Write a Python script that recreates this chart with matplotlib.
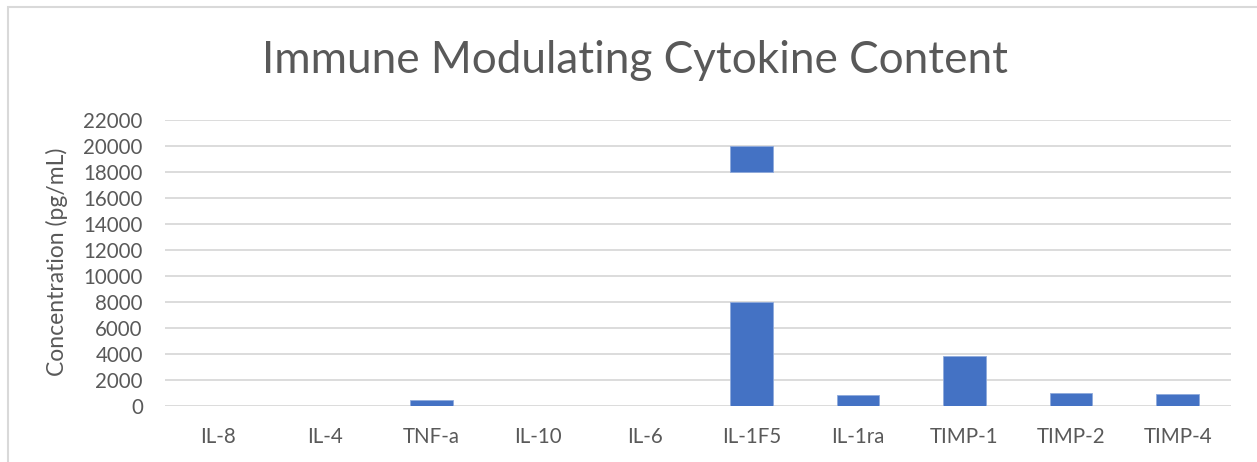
import matplotlib.pyplot as plt
from matplotlib.patches import Rectangle

# values (pg/mL)
categories = ["IL-8", "IL-4", "TNF-a", "IL-10", "IL-6",
              "IL-1F5", "IL-1ra", "TIMP-1", "TIMP-2", "TIMP-4"]
values = [0, 0, 450, 0, 0, 8000, 800, 3850, 970, 900]
# IL-1F5 is drawn with a broken bar: an extra segment floating above
upper_category = ["IL-1F5"]
upper_bottom = [18000]
upper_top = [20000]
y_ticks = list(range(0, 22001, 2000))

bar_color = "#4472C4"
text_color = "#595959"
grid_color = "#D9D9D9"

plt.rcParams["font.family"] = ["Lato", "DejaVu Sans"]

fig = plt.figure(figsize=(12.57, 4.62), dpi=100)
ax = fig.add_axes([165 / 1257, 56.3 / 462, (1231 - 165) / 1257, 286 / 462])

x = list(range(len(categories)))
ax.bar(x, values, width=0.4, color=bar_color, edgecolor="#8FAADC",
       linewidth=0.6, zorder=3)
upper_x = [categories.index(c) for c in upper_category]
upper_h = [t - b for b, t in zip(upper_bottom, upper_top)]
ax.bar(upper_x, upper_h, bottom=upper_bottom, width=0.4, color=bar_color,
       edgecolor="#8FAADC", linewidth=0.6, zorder=3)

ax.set_xlim(-0.5, len(categories) - 0.5)
ax.set_ylim(0, 22000)
ax.set_yticks(y_ticks)
ax.set_yticklabels([str(t) for t in y_ticks])
ax.set_xticks(x)
ax.set_xticklabels(categories)
ax.tick_params(axis="both", length=0, labelsize=14.8, colors=text_color)
ax.tick_params(axis="y", pad=16)
ax.tick_params(axis="x", pad=15)
ax.grid(axis="y", color=grid_color, linewidth=1.3, zorder=0)
for s in ax.spines.values():
    s.set_visible(False)

ax.set_ylabel("Concentration (pg/mL)", fontsize=16.5, color=text_color)
ax.yaxis.set_label_coords(-0.091, 0.502)
fig.text(634.5 / 1257, 1 - 73 / 462, "Immune Modulating Cytokine Content",
         ha="center", va="baseline", fontsize=31.8, color=text_color)

# outer chart border (cut off at right and bottom in the reference)
fig.patches.append(Rectangle((8 / 1257, -0.1), 1.2, 1 - 7 / 462 + 0.1,
                             transform=fig.transFigure, fill=False,
                             edgecolor=grid_color, linewidth=1.5))

fig.savefig("out.png", dpi=100)
